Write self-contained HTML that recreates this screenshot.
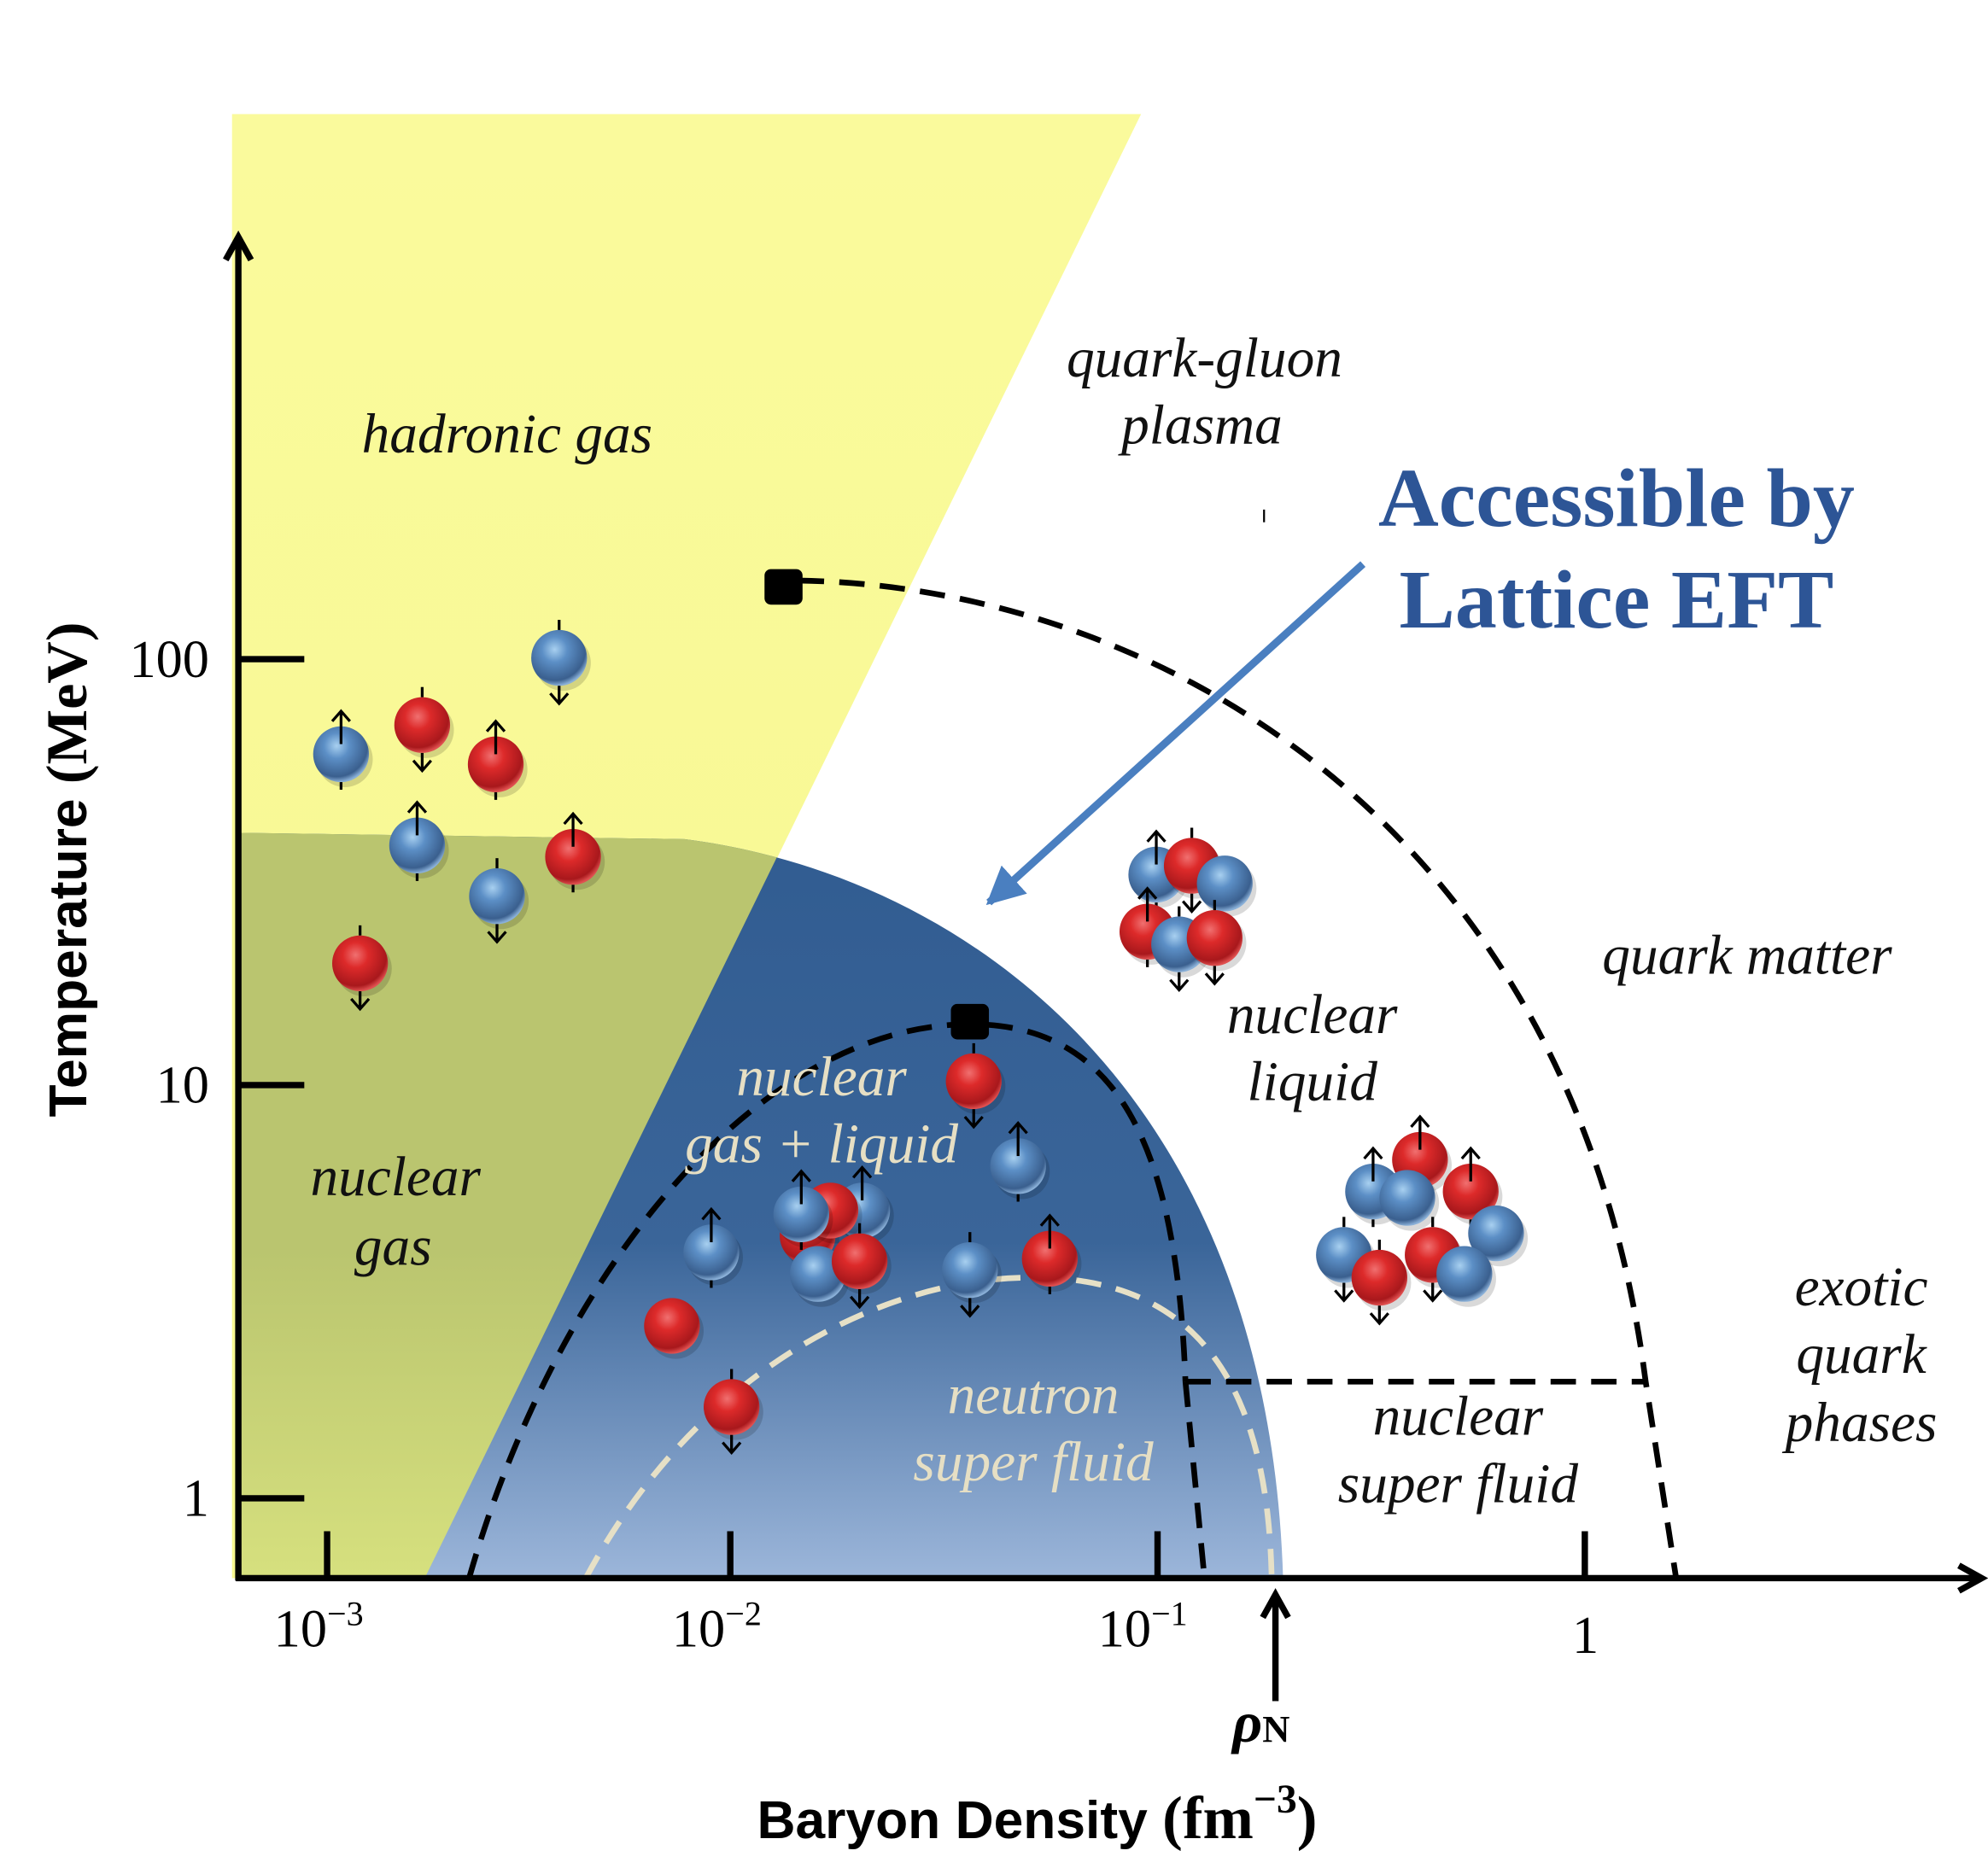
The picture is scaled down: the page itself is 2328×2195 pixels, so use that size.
<!DOCTYPE html>
<html><head><meta charset="utf-8"><style>html,body{margin:0;padding:0;background:#fff}svg{display:block}</style></head>
<body>
<svg id="s" width="2328" height="2195" viewBox="0 0 1568 1478.4" preserveAspectRatio="none" xmlns="http://www.w3.org/2000/svg">
<defs>
<linearGradient id="yl" x1="0" y1="0" x2="0" y2="1">
<stop offset="0" stop-color="#fafa9c"/><stop offset="1" stop-color="#f7f890"/></linearGradient>
<linearGradient id="bl" x1="0" y1="0" x2="0" y2="1">
<stop offset="0" stop-color="#315c91"/><stop offset="0.55" stop-color="#3a6599"/><stop offset="1" stop-color="#9cb6da"/></linearGradient>
<linearGradient id="ol" x1="0" y1="0" x2="0" y2="1">
<stop offset="0" stop-color="#bac56f"/><stop offset="0.6" stop-color="#bac56f"/><stop offset="1" stop-color="#d6e07e"/></linearGradient>
<radialGradient id="rs" cx="0.42" cy="0.35" r="0.65"><stop offset="0" stop-color="#f07070"/><stop offset="0.35" stop-color="#dd2a2a"/><stop offset="0.85" stop-color="#a8181c"/><stop offset="1" stop-color="#e05050"/></radialGradient>
<radialGradient id="bs" cx="0.42" cy="0.35" r="0.65"><stop offset="0" stop-color="#a8d0f0"/><stop offset="0.35" stop-color="#5c8fc6"/><stop offset="0.85" stop-color="#3a5f8e"/><stop offset="1" stop-color="#8ab0d8"/></radialGradient>
<clipPath id="dome"><path d="M190,1245 L190,657 L540,662 C 760,690 1000,860 1012,1245 Z"/></clipPath>
<marker id="ah" viewBox="0 0 10 10" refX="9" refY="5" markerWidth="5" markerHeight="5" orient="auto"><path d="M0,0 L10,5 L0,10 z" fill="#4a7fc0"/></marker>
</defs>
<polygon points="183,90 900,90 335,1245 183,1245" fill="url(#yl)"/>
<path d="M190,1245 L190,657 L540,662 C 760,690 1000,860 1012,1245 Z" fill="url(#bl)"/>
<polygon clip-path="url(#dome)" points="183,600 650,600 335,1245 183,1245" fill="url(#ol)"/>
<g fill="none" stroke-width="4.5" stroke-dasharray="20,12">
<path d="M630,458 C 900,462 1240,640 1298,1090 L1322,1245" stroke="#000"/>
<path d="M935,1090 L1298,1090" stroke="#000"/>
<path d="M935,1090 L950,1245" stroke="#000"/>
<path d="M370,1245 C 440,1000 600,808 765,808 C 880,808 928,900 935,1090" stroke="#000"/>
<path d="M462,1245 C 550,1080 700,1005 820,1008 C 950,1010 1000,1100 1003,1245" stroke="#e6e0c6"/>
</g>
<rect x="603" y="449" width="30" height="28" rx="5" fill="#000"/>
<rect x="750" y="792" width="30" height="28" rx="5" fill="#000"/>
<line x1="997" y1="402" x2="997" y2="412" stroke="#000" stroke-width="1.5"/>
<g stroke="#000" stroke-width="5" fill="none">
<line x1="188" y1="1247" x2="188" y2="190"/>
<polyline points="178,205 188,187 198,205"/>
<line x1="186" y1="1245" x2="1560" y2="1245"/>
<polyline points="1545,1235 1563,1245 1545,1255"/>
<line x1="188" y1="520" x2="240" y2="520"/><line x1="188" y1="856" x2="240" y2="856"/><line x1="188" y1="1182" x2="240" y2="1182"/>
<line x1="258" y1="1208" x2="258" y2="1245"/><line x1="576" y1="1208" x2="576" y2="1245"/><line x1="913" y1="1208" x2="913" y2="1245"/><line x1="1250" y1="1208" x2="1250" y2="1245"/>
<line x1="1006" y1="1342" x2="1006" y2="1262"/><polyline points="996,1276 1006,1258 1016,1276"/>
</g>
<line x1="1075" y1="445" x2="780" y2="712" stroke="#4a7fc0" stroke-width="6" marker-end="url(#ah)"/>
<g font-family="'Liberation Serif',serif" font-size="42" fill="#000">
<text x="165" y="534" text-anchor="end">100</text>
<text x="165" y="870" text-anchor="end">10</text>
<text x="165" y="1196" text-anchor="end">1</text>
<text x="216" y="1299">10<tspan font-size="27" dy="-17">−3</tspan></text>
<text x="530" y="1299">10<tspan font-size="27" dy="-17">−2</tspan></text>
<text x="866" y="1299">10<tspan font-size="27" dy="-17">−1</tspan></text>
<text x="1240" y="1304">1</text>
<text x="972" y="1374" font-weight="bold" font-style="italic" font-size="46">ρ<tspan font-style="normal" font-size="30">N</tspan></text>
</g>
<text transform="translate(68,686) rotate(-90)" text-anchor="middle" font-family="'Liberation Sans',sans-serif" font-weight="bold" font-size="42">Temperature  <tspan font-family="'Liberation Serif',serif" font-weight="bold" font-size="46">(MeV)</tspan></text>
<text x="818" y="1450" text-anchor="middle" font-family="'Liberation Sans',sans-serif" font-weight="bold" font-size="42">Baryon Density  <tspan font-family="'Liberation Serif',serif" font-size="48">(fm<tspan font-size="32" dy="-20">−3</tspan><tspan dy="20">)</tspan></tspan></text>
<g font-family="'Liberation Serif',serif" font-weight="bold" font-size="66" fill="#2d5596" text-anchor="middle">
<text x="1275" y="415">Accessible by</text><text x="1275" y="495">Lattice EFT</text></g>
<g font-family="'Liberation Serif',serif" font-style="italic" font-size="44" text-anchor="middle" fill="#111">
<text x="400" y="357">hadronic gas</text>
<text x="950" y="297">quark-gluon</text><text x="948" y="350">plasma</text>
<text x="1378" y="768">quark matter</text>
<text x="1035" y="815">nuclear</text><text x="1035" y="868">liquid</text>
<text x="312" y="943">nuclear</text><text x="310" y="998">gas</text>
<text x="1468" y="1030">exotic</text><text x="1468" y="1083">quark</text><text x="1468" y="1137">phases</text>
<text x="1150" y="1132">nuclear</text><text x="1150" y="1185">super fluid</text>
</g>
<g font-family="'Liberation Serif',serif" font-style="italic" font-size="44" text-anchor="middle" fill="#e6dfc4">
<text x="648" y="864">nuclear</text><text x="648" y="917">gas + liquid</text>
<text x="815" y="1115">neutron</text><text x="815" y="1168">super fluid</text>
</g>
<g id="sp"></g>
</svg>
<script>
var S=[
['b',269,595,1],['r',333,572,0],['r',391,603,1],['b',441,519,0],['b',329,667,1],['b',392,707,0],['r',452,676,1],['r',284,760,0],
['r',768,853,0],['b',803,920,1],['b',561,988,1],['r',530,1046,2],['r',577,1110,0],['b',765,1002,0],['r',828,993,1],
['r',637,975,2],['b',680,955,1],['r',655,955,2],['b',632,958,1],['b',645,1005,2],['r',678,995,0],
['b',912,690,1],['r',940,683,0],['b',966,697,2],['r',905,735,1],['b',930,745,0],['r',958,740,0],
['r',1120,915,1],['b',1083,940,1],['r',1160,940,1],['b',1110,945,2],['b',1180,973,2],['b',1060,990,0],['r',1130,990,0],['b',1155,1005,2],['r',1088,1008,0]];
var g=document.getElementById('sp'),h='';
S.forEach(function(s){var x=s[1],y=s[2],R=22;
h+='<circle cx="'+(x+3)+'" cy="'+(y+4)+'" r="'+R+'" fill="#000" opacity="0.15"/>';
h+='<circle cx="'+x+'" cy="'+y+'" r="'+R+'" fill="url(#'+(s[0]=='r'?'rs':'bs')+')"/>';
var st='stroke="#000" stroke-width="2.2" fill="none"';
if(s[3]==1){h+='<line x1="'+x+'" y1="'+(y-8)+'" x2="'+x+'" y2="'+(y-34)+'" '+st+'/><polyline points="'+(x-7)+','+(y-26)+' '+x+','+(y-34)+' '+(x+7)+','+(y-26)+'" '+st+'/><line x1="'+x+'" y1="'+(y+22)+'" x2="'+x+'" y2="'+(y+28)+'" '+st+'/>';}
else if(s[3]==0){h+='<line x1="'+x+'" y1="'+(y-22)+'" x2="'+x+'" y2="'+(y-30)+'" '+st+'/><line x1="'+x+'" y1="'+(y+22)+'" x2="'+x+'" y2="'+(y+36)+'" '+st+'/><polyline points="'+(x-7)+','+(y+28)+' '+x+','+(y+36)+' '+(x+7)+','+(y+28)+'" '+st+'/>';}
});
g.innerHTML=h;
</script>
</body></html>
